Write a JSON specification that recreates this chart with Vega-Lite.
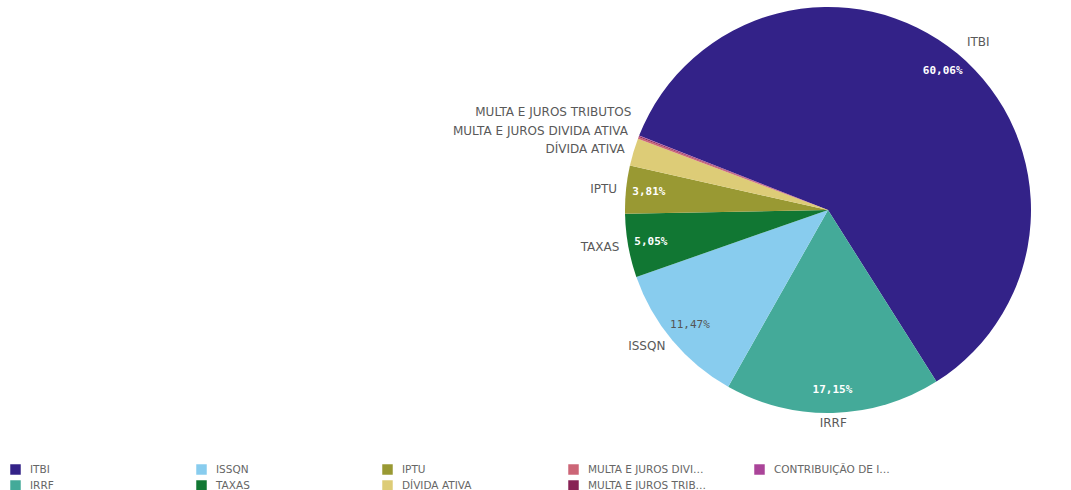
{
  "$schema": "https://vega.github.io/schema/vega-lite/v6.json",
  "width": 486,
  "height": 400,
  "autosize": {"type": "none"},
  "padding": {"left": 585, "top": 10, "right": 0, "bottom": 80},
  "data": {"values": [
    {"cat": "ITBI", "share": 0.6006},
    {"cat": "IRRF", "share": 0.1715},
    {"cat": "ISSQN", "share": 0.1147},
    {"cat": "TAXAS", "share": 0.0505},
    {"cat": "IPTU", "share": 0.0381},
    {"cat": "DÍVIDA ATIVA", "share": 0.022},
    {"cat": "MULTA E JUROS DIVIDA ATIVA", "share": 0.0015},
    {"cat": "MULTA E JUROS TRIBUTOS", "share": 0.0008},
    {"cat": "CONTRIBUIÇÃO DE ILUMINAÇÃO PÚBLICA", "share": 0.0003}
  ]},
  "encoding": {
    "theta": {"field": "share", "type": "quantitative", "stack": true, "scale": {"range": [-1.1956, 5.0876]}},
    "order": {"field": "share", "type": "quantitative", "sort": "descending"}
  },
  "layer": [
    {
      "mark": {"type": "arc", "radius": 203},
      "encoding": {
        "color": {
          "field": "cat", "type": "nominal",
          "scale": {
            "domain": ["ITBI", "ISSQN", "IPTU", "MULTA E JUROS DIVIDA ATIVA", "CONTRIBUIÇÃO DE ILUMINAÇÃO PÚBLICA", "IRRF", "TAXAS", "DÍVIDA ATIVA", "MULTA E JUROS TRIBUTOS"],
            "range": ["#332288", "#88CCEE", "#999933", "#CC6677", "#AA4499", "#44AA99", "#117733", "#DDCC77", "#882255"]
          },
          "legend": {
            "title": null,
            "orient": "none",
            "legendX": -575,
            "legendY": 454,
            "direction": "horizontal",
            "columns": 5,
            "gridAlign": "all",
            "columnPadding": 47,
            "rowPadding": 5,
            "symbolType": "square",
            "symbolSize": 110,
            "symbolStrokeWidth": 0,
            "labelFont": "DejaVu Sans",
            "labelFontSize": 10.5,
            "labelColor": "#666666",
            "labelLimit": 120,
            "labelOffset": 9
          }
        }
      }
    },
    {
      "mark": {"type": "text", "radius": 180, "font": "DejaVu Sans Mono", "fontWeight": "bold", "fontSize": 11, "color": "white"},
      "encoding": {
        "text": {"condition": {"test": "datum.share > 0.03 && datum.cat != 'ISSQN'", "field": "share", "format": ".2%"}, "value": ""}
      }
    },
    {
      "mark": {"type": "text", "radius": 180, "font": "DejaVu Sans Mono", "fontSize": 11, "color": "#555555"},
      "encoding": {
        "text": {"condition": {"test": "datum.cat == 'ISSQN'", "field": "share", "format": ".2%"}, "value": ""}
      }
    },
    {
      "mark": {"type": "text", "radius": 212, "align": "right", "baseline": "middle", "font": "DejaVu Sans", "fontSize": 12, "color": "#595959"},
      "encoding": {
        "text": {"condition": {"test": "indexof(['ISSQN','TAXAS','IPTU','DÍVIDA ATIVA'], datum.cat) >= 0", "field": "cat"}, "value": ""}
      }
    },
    {
      "mark": {"type": "text", "radius": 212, "align": "right", "baseline": "middle", "dy": -4, "dx": -2, "font": "DejaVu Sans", "fontSize": 12, "color": "#595959"},
      "encoding": {
        "text": {"condition": {"test": "datum.cat == 'MULTA E JUROS DIVIDA ATIVA'", "field": "cat"}, "value": ""}
      }
    },
    {
      "mark": {"type": "text", "radius": 212, "align": "right", "baseline": "middle", "dy": -21, "dx": 1, "font": "DejaVu Sans", "fontSize": 12, "color": "#595959"},
      "encoding": {
        "text": {"condition": {"test": "datum.cat == 'MULTA E JUROS TRIBUTOS'", "field": "cat"}, "value": ""}
      }
    },
    {
      "mark": {"type": "text", "radius": 218, "align": "left", "baseline": "middle", "font": "DejaVu Sans", "fontSize": 12, "color": "#595959"},
      "encoding": {
        "text": {"condition": {"test": "datum.cat == 'ITBI'", "field": "cat"}, "value": ""}
      }
    },
    {
      "mark": {"type": "text", "radius": 213, "align": "center", "baseline": "middle", "font": "DejaVu Sans", "fontSize": 12, "color": "#595959"},
      "encoding": {
        "text": {"condition": {"test": "datum.cat == 'IRRF'", "field": "cat"}, "value": ""}
      }
    }
  ],
  "config": {
    "view": {"stroke": null},
    "locale": {"number": {"decimal": ",", "thousands": ".", "grouping": [3], "currency": ["R$ ", ""]}}
  }
}
